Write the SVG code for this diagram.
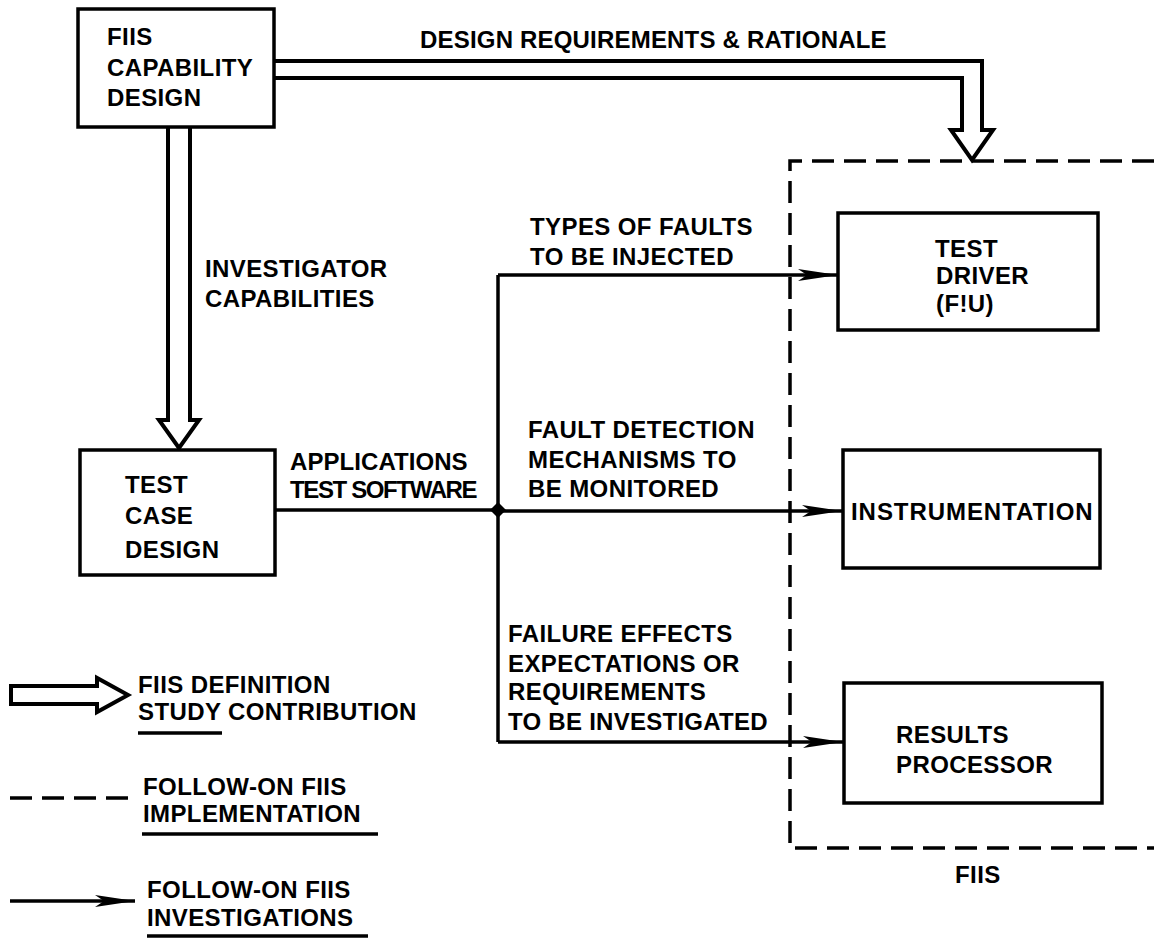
<svg xmlns="http://www.w3.org/2000/svg" width="1154" height="938" viewBox="0 0 1154 938">
<style>
  text { font-family: "Liberation Sans", Arial, sans-serif; font-weight: bold; font-size: 24px; letter-spacing: 0.4px; fill: #000; }
  .box { fill: #fff; stroke: #000; stroke-width: 3.5; }
  .line { fill: none; stroke: #000; stroke-width: 3.5; }
  .hollow { fill: #fff; stroke: #000; stroke-width: 4; stroke-linejoin: miter; }
  .dash { fill: none; stroke: #000; stroke-width: 3.5; stroke-dasharray: 22 10; }
  .ul { stroke: #000; stroke-width: 3.5; }
</style>
<defs>
  <marker id="arr" viewBox="0 0 40 12" refX="40" refY="6" markerWidth="40" markerHeight="12" markerUnits="userSpaceOnUse" orient="auto">
    <path d="M0,0 L40,6 L0,12 L9,6 Z" fill="#000"/>
  </marker>
</defs>
<rect width="1154" height="938" fill="#fff"/>

<g id="fiis-boundary">
  <path class="dash" d="M1154,161 H790 V848 H1154"/>
  <text x="955" y="883">FIIS</text>
</g>

<g id="connectors">
  <path class="hollow" d="M274,61 H982 V130 H993 L972,160 L951,130 H962 V78 H274"/>
  <path class="hollow" d="M168,127 V420 H159 L179,448 L199,420 H190 V127"/>
  <path class="line" d="M275,510 H498"/>
  <path class="line" d="M498,275 V742"/>
  <path class="line" d="M498,275 H838" marker-end="url(#arr)"/>
  <path class="line" d="M498,511 H842" marker-end="url(#arr)"/>
  <path class="line" d="M498,742 H843" marker-end="url(#arr)"/>
  <path d="M498,502 L506,510 L498,518 L490,510 Z" fill="#000"/>
  <text x="420" y="48" textLength="467">DESIGN REQUIREMENTS &amp; RATIONALE</text>
  <text x="205" y="277">INVESTIGATOR</text>
  <text x="205" y="307">CAPABILITIES</text>
  <text x="290" y="470" textLength="178">APPLICATIONS</text>
  <text x="290" y="498" textLength="188">TEST SOFTWARE</text>
  <text x="530" y="235">TYPES OF FAULTS</text>
  <text x="530" y="265">TO BE INJECTED</text>
  <text x="528" y="438">FAULT DETECTION</text>
  <text x="528" y="468">MECHANISMS TO</text>
  <text x="528" y="497">BE MONITORED</text>
  <text x="508" y="642">FAILURE EFFECTS</text>
  <text x="508" y="672">EXPECTATIONS OR</text>
  <text x="508" y="700">REQUIREMENTS</text>
  <text x="508" y="730" textLength="260">TO BE INVESTIGATED</text>
</g>

<g id="capability-design">
  <rect class="box" x="78" y="9" width="196" height="118"/>
  <text x="107" y="45">FIIS</text>
  <text x="107" y="76">CAPABILITY</text>
  <text x="107" y="106">DESIGN</text>
</g>

<g id="test-case-design">
  <rect class="box" x="80" y="450" width="195" height="125"/>
  <text x="125" y="493">TEST</text>
  <text x="125" y="524">CASE</text>
  <text x="125" y="558">DESIGN</text>
</g>

<g id="test-driver">
  <rect class="box" x="838" y="213" width="260" height="117"/>
  <text x="935" y="257">TEST</text>
  <text x="936" y="284">DRIVER</text>
  <text x="936" y="312">(F!U)</text>
</g>

<g id="instrumentation">
  <rect class="box" x="843" y="450" width="257" height="118"/>
  <text x="851" y="520" textLength="242">INSTRUMENTATION</text>
</g>

<g id="results-processor">
  <rect class="box" x="844" y="683" width="258" height="120"/>
  <text x="896" y="743">RESULTS</text>
  <text x="896" y="773">PROCESSOR</text>
</g>

<g id="legend">
  <path class="hollow" d="M11,686 H97 V678 L128,695 L97,712 V704 H11 Z" stroke-width="3.5"/>
  <text x="138" y="693">FIIS DEFINITION</text>
  <text x="138" y="720">STUDY CONTRIBUTION</text>
  <line class="ul" x1="138" y1="733" x2="222" y2="733"/>
  <path class="dash" d="M10,798 H128"/>
  <text x="143" y="795">FOLLOW-ON FIIS</text>
  <text x="143" y="822">IMPLEMENTATION</text>
  <line class="ul" x1="142" y1="834" x2="378" y2="834"/>
  <path class="line" d="M10,901 H135" marker-end="url(#arr)"/>
  <text x="147" y="898">FOLLOW-ON FIIS</text>
  <text x="147" y="926">INVESTIGATIONS</text>
  <line class="ul" x1="147" y1="936" x2="368" y2="936"/>
</g>
</svg>
